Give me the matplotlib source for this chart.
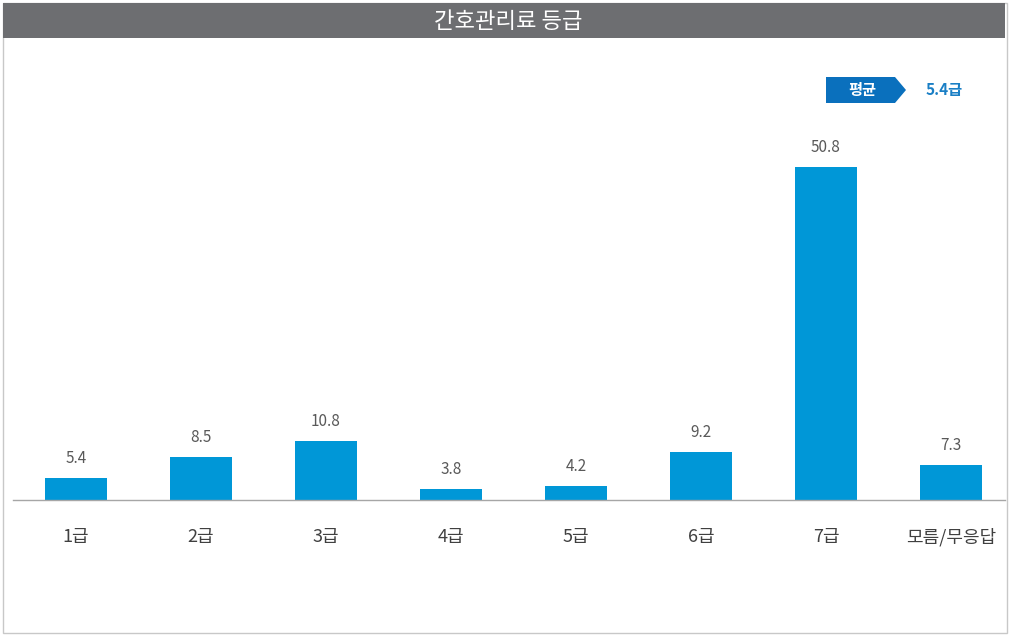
import matplotlib.pyplot as plt
from matplotlib.patches import Rectangle, Polygon

plt.rcParams['font.family'] = ['Noto Sans CJK KR', 'DejaVu Sans']

# data
categories = ["1급", "2급", "3급", "4급", "5급", "6급", "7급", "모름/무응답"]
values = [5.4, 8.5, 10.8, 3.8, 4.2, 9.2, 50.8, 7.3]
title = "간호관리료 등급"
avg_label = "평균"
avg_value = "5.4급"

W, H = 1012, 637
fig = plt.figure(figsize=(W / 100, H / 100), dpi=100)

def fx(px):
    return px / W

def fy(py):
    return 1 - py / H

# outer frame
fig.patches.append(Rectangle((fx(3), fy(633)), fx(1004), (630) / H,
                             transform=fig.transFigure, facecolor="white",
                             edgecolor="#c8c8c8", lw=1.0, zorder=-2))
# title bar
fig.patches.append(Rectangle((fx(3), fy(38)), fx(1002), 35 / H,
                             transform=fig.transFigure, facecolor="#6d6e71",
                             edgecolor="none", zorder=-1))
fig.text(fx(508), fy(21), title, color="white", fontsize=16,
         ha="center", va="center")

# legend arrow box
pts = [(826, 77), (895, 77), (906, 90), (895, 103), (826, 103)]
fig.patches.append(Polygon([(fx(x), fy(y)) for x, y in pts], closed=True,
                           transform=fig.transFigure, facecolor="#0a70bd",
                           edgecolor="none", zorder=2))
fig.text(fx(862), fy(90), avg_label, color="white", fontsize=11,
         fontweight="bold", ha="center", va="center", zorder=3)
fig.text(fx(944), fy(90), avg_value, color="#1a7fc5", fontsize=11,
         fontweight="bold", ha="center", va="center")

# chart
ax = fig.add_axes([fx(13), fy(500), fx(1005) - fx(13), (500 - 60) / H])
ax.set_zorder(5)
x = list(range(len(categories)))
ax.bar(x, values, width=0.5, color="#0097d7", zorder=2)
ax.set_xlim((13 - 76) / 125, (1005 - 76) / 125)
ax.set_ylim(2.2, 66.4)

for xi, v in zip(x, values):
    ax.annotate(f"{v:.1f}", (xi, v), xytext=(0, 8), textcoords="offset points",
                ha="center", va="bottom", fontsize=11, color="#595959")

ax.set_xticks(x)
ax.set_xticklabels(categories, fontsize=13, color="#404040")
ax.tick_params(axis="x", length=0, pad=20)
ax.set_yticks([])
for s in ["top", "left", "right"]:
    ax.spines[s].set_visible(False)
ax.spines["bottom"].set_color("#a6a6a6")
ax.spines["bottom"].set_linewidth(1.0)
ax.patch.set_alpha(0)

fig.savefig("out.png", dpi=100)
